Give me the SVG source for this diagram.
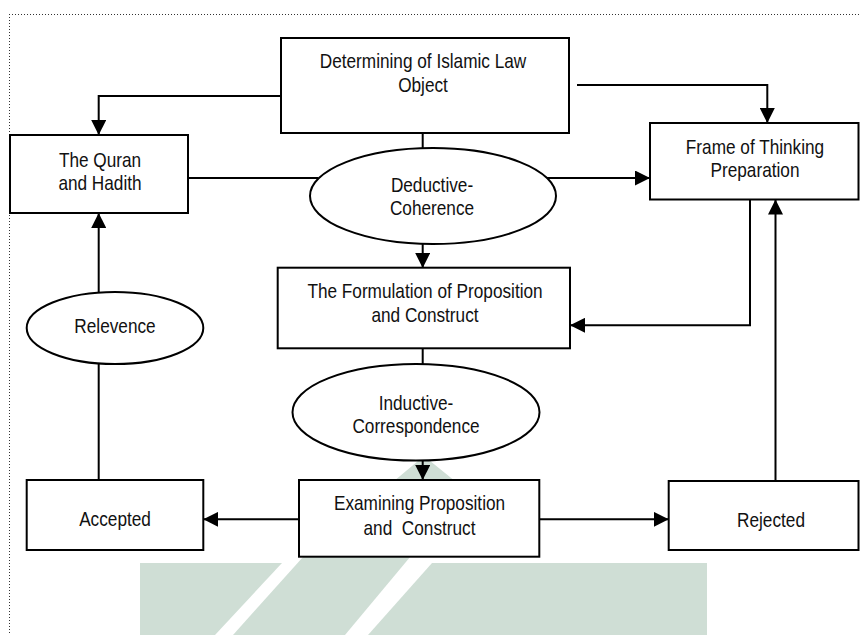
<svg xmlns="http://www.w3.org/2000/svg" width="860" height="635" viewBox="0 0 860 635">
<style>
  .box { fill: #ffffff; stroke: #000; stroke-width: 2; }
  .ell { fill: #ffffff; stroke: #000; stroke-width: 2; }
  .lbl { font-family: "Liberation Sans", Arial, sans-serif; font-size: 21px; fill: #111; text-anchor: middle; }
  .conn { fill: none; stroke: #000; stroke-width: 2; }
  .wm { fill: #cfded5; }
</style>
<defs>
  <marker id="arr" markerUnits="userSpaceOnUse" markerWidth="16" markerHeight="15" refX="15" refY="7.5" orient="auto">
    <path d="M0,0 L15,7.5 L0,15 z" fill="#000"/>
  </marker>
</defs>
<rect x="0" y="0" width="860" height="635" fill="#ffffff"/>
<g id="watermark">
  <polygon class="wm" points="140,563 282,563 215,635 140,635"/>
  <polygon class="wm" points="233,635 303,557 424,456 466,490 345,635"/>
  <polygon class="wm" points="368,635 432,563 707,563 707,635"/>
</g>
<g id="frame-border" fill="none" stroke="#333" stroke-width="1" stroke-dasharray="1 2">
  <line x1="9" y1="14.5" x2="860" y2="14.5"/>
  <line x1="9.5" y1="14" x2="9.5" y2="635"/>
</g>
<g id="connectors">
  <polyline class="conn" points="281,96 98.7,96 98.7,135" marker-end="url(#arr)"/>
  <polyline class="conn" points="577,85 767.3,85 767.3,123" marker-end="url(#arr)"/>
  <line class="conn" x1="188" y1="178" x2="318" y2="178"/>
  <line class="conn" x1="547" y1="178" x2="650" y2="178" marker-end="url(#arr)"/>
  <line class="conn" x1="422.7" y1="133" x2="422.7" y2="149"/>
  <line class="conn" x1="422.7" y1="243" x2="422.7" y2="268" marker-end="url(#arr)"/>
  <polyline class="conn" points="750,199 750,325.3 570,325.3" marker-end="url(#arr)"/>
  <line class="conn" x1="775.5" y1="485" x2="775.5" y2="199.5" marker-end="url(#arr)"/>
  <line class="conn" x1="422.7" y1="348" x2="422.7" y2="365"/>
  <line class="conn" x1="422.7" y1="460" x2="422.7" y2="480" marker-end="url(#arr)"/>
  <line class="conn" x1="299" y1="519.3" x2="203.3" y2="519.3" marker-end="url(#arr)"/>
  <line class="conn" x1="539.3" y1="519.3" x2="668.7" y2="519.3" marker-end="url(#arr)"/>
  <line class="conn" x1="98.7" y1="480" x2="98.7" y2="362"/>
  <line class="conn" x1="98.7" y1="293" x2="98.7" y2="213" marker-end="url(#arr)"/>
</g>
<g id="n-determining">
  <rect class="box" x="281" y="38" width="288" height="95"/>
  <text class="lbl" transform="translate(423,68) scale(0.82,1)">Determining of Islamic Law</text>
  <text class="lbl" transform="translate(423,91.5) scale(0.82,1)">Object</text>
</g>
<g id="n-quran">
  <rect class="box" x="10" y="135" width="178" height="78"/>
  <text class="lbl" transform="translate(100,166.5) scale(0.82,1)">The Quran</text>
  <text class="lbl" transform="translate(100,190) scale(0.82,1)">and Hadith</text>
</g>
<g id="n-deductive">
  <ellipse class="ell" cx="433" cy="196" rx="123" ry="48"/>
  <text class="lbl" transform="translate(432,192) scale(0.82,1)">Deductive-</text>
  <text class="lbl" transform="translate(432,215) scale(0.82,1)">Coherence</text>
</g>
<g id="n-frame">
  <rect class="box" x="650" y="123" width="208.5" height="76.5"/>
  <text class="lbl" transform="translate(755,154) scale(0.82,1)">Frame of Thinking</text>
  <text class="lbl" transform="translate(755,177) scale(0.82,1)">Preparation</text>
</g>
<g id="n-formulation">
  <rect class="box" x="277.7" y="267.7" width="292.3" height="80.6"/>
  <text class="lbl" transform="translate(425,298.3) scale(0.82,1)">The Formulation of Proposition</text>
  <text class="lbl" transform="translate(425,321.7) scale(0.82,1)">and Construct</text>
</g>
<g id="n-relevence">
  <ellipse class="ell" cx="115" cy="328" rx="88.3" ry="36"/>
  <text class="lbl" transform="translate(115,333.3) scale(0.82,1)">Relevence</text>
</g>
<g id="n-inductive">
  <ellipse class="ell" cx="416" cy="412.3" rx="123.5" ry="48.3"/>
  <text class="lbl" transform="translate(416,410) scale(0.82,1)">Inductive-</text>
  <text class="lbl" transform="translate(416,432.7) scale(0.82,1)">Correspondence</text>
</g>
<g id="n-examining">
  <rect class="box" x="299" y="480" width="240.3" height="76.7"/>
  <text class="lbl" transform="translate(419.5,510) scale(0.82,1)">Examining Proposition</text>
  <text class="lbl" transform="translate(419.5,535) scale(0.82,1)" xml:space="preserve">and  Construct</text>
</g>
<g id="n-accepted">
  <rect class="box" x="26.7" y="480" width="176.6" height="70"/>
  <text class="lbl" transform="translate(115,526) scale(0.82,1)">Accepted</text>
</g>
<g id="n-rejected">
  <rect class="box" x="668.7" y="481" width="189.8" height="69"/>
  <text class="lbl" transform="translate(771,527.3) scale(0.82,1)">Rejected</text>
</g>
</svg>
